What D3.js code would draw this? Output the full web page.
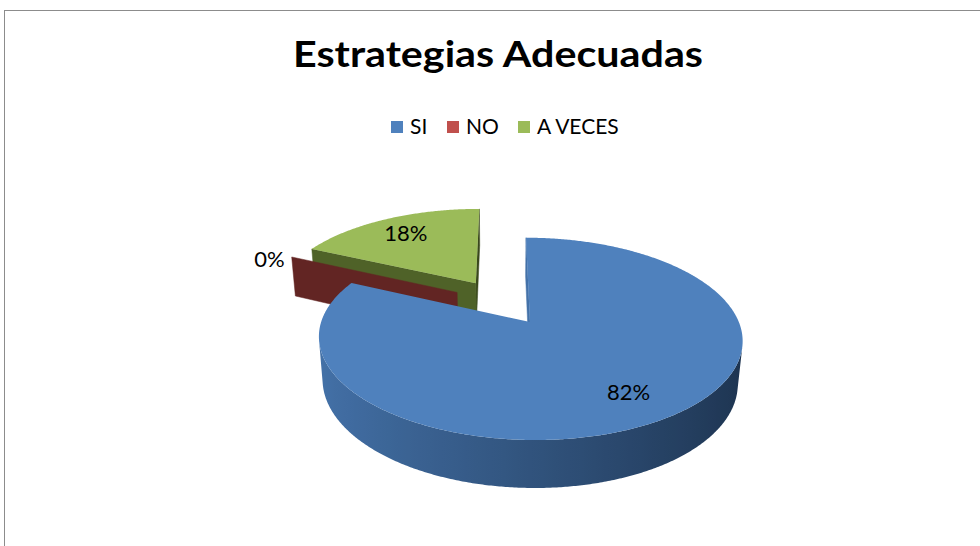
<!DOCTYPE html>
<html>
<head>
<meta charset="utf-8">
<script src="https://cdn.jsdelivr.net/npm/d3@7"></script>
<style>
  body { margin: 0; background: #fff; }
  text { font-family: Lato, "Noto Sans", sans-serif; fill: #000; }
</style>
</head>
<body>
<script>
const categories = ["SI", "NO", "A VECES"];
const values = [82, 0, 18];
const labels = ["82%", "0%", "18%"];
const topColors = ["#4F81BD", "#C0504D", "#9BBB59"];
const sideDark = ["#1d334f", "#461a19", "#3a481d"];
const sideLight = ["#4472a9", "#6d2927", "#586d2d"];

const W = 980, H = 546;

// fake 3d camera, tuned against the picture
const cx = 502, cy = 302, f = 1120, D = 5.55;
const tilt = Math.asin(0.455);
const sinT = Math.sin(tilt), cosT = Math.cos(tilt);
const thick = 0.235, explode = 0.25;

function project(x, z, h) {
  const v = h * cosT + z * sinT, w = D + z * cosT - h * sinT;
  return [cx + f * x / w, cy - f * v / w];
}
function depth(x, z, h) { return D + z * cosT - h * sinT; }
// camera position in world coords
const cam = { x: 0, h: D * sinT, z: -D * cosT };

const svg = d3.select("body").append("svg")
  .attr("width", W)
  .attr("height", H);
const defs = svg.append("defs");

svg.append("rect")
  .attr("x", 4.5).attr("y", 10.5)
  .attr("width", 1100).attr("height", 700)
  .attr("fill", "none")
  .attr("stroke", "#8c8c8c")
  .attr("stroke-width", 1);

svg.append("text")
  .attr("x", 498).attr("y", 67)
  .attr("text-anchor", "middle")
  .attr("textLength", 410)
  .attr("lengthAdjust", "spacingAndGlyphs")
  .style("font-size", "37px")
  .style("font-weight", "bold")
  .text("Estrategias Adecuadas");

// legend
const legendX = d3.scaleOrdinal().domain(categories).range([391, 447, 518]);
const legend = svg.append("g").selectAll("g")
  .data(categories)
  .join("g")
  .attr("transform", d => `translate(${legendX(d)},121)`);
legend.append("rect")
  .attr("width", 12).attr("height", 12)
  .attr("fill", (d, i) => topColors[i]);
legend.append("text")
  .attr("x", 19).attr("y", 12.5)
  .style("font-size", "21px")
  .text(d => d);

const pie = d3.pie().sort(null).startAngle(0).endAngle(2 * Math.PI);
const arcs = pie(values);

const line = d3.line();

const slices = arcs.map(function (a, i) {
  const mid = (a.startAngle + a.endAngle) / 2;
  const ox = explode * Math.sin(mid), oz = explode * Math.cos(mid);
  return { a: a, i: i, mid: mid, ox: ox, oz: oz };
});

// far slices first
slices.sort((p, q) => depth(q.ox, q.oz, 0) - depth(p.ox, p.oz, 0));

function visible(nx, nz, px, pz) {
  return nx * (cam.x - px) + nz * (cam.z - pz) > 0;
}

slices.forEach(function (s) {
  const i = s.i, a0 = s.a.startAngle, a1 = s.a.endAngle;
  const shade = d3.interpolateRgb(sideDark[i], sideLight[i]);
  const g = svg.append("g");
  const outer = th => [s.ox + Math.sin(th), s.oz + Math.cos(th)];
  const n = Math.max(1, Math.ceil((a1 - a0) / (Math.PI / 360)));

  // radial walls, flat shaded
  const walls = [];
  [[a0, -Math.cos(a0), Math.sin(a0)], [a1, Math.cos(a1), -Math.sin(a1)]].forEach(function (wl) {
    const th = wl[0], nx = wl[1], nz = wl[2];
    const p = outer(th);
    const mx = (s.ox + p[0]) / 2, mz = (s.oz + p[1]) / 2;
    if (!visible(nx, nz, mx, mz)) return;
    walls.push({
      pts: [project(s.ox, s.oz, 0), project(p[0], p[1], 0),
            project(p[0], p[1], -thick), project(s.ox, s.oz, -thick)],
      color: shade((1 - nx) / 2),
      d: depth(mx, mz, -thick / 2)
    });
  });
  walls.sort((p, q) => q.d - p.d);
  g.selectAll(".wall")
    .data(walls)
    .join("path")
    .attr("class", "wall")
    .attr("d", d => line(d.pts) + "Z")
    .attr("fill", d => d.color)
    .attr("stroke", d => d.color)
    .attr("stroke-width", 0.5);

  // curved rim: visible angles only, one path with a gradient
  const vis = [];
  for (let k = 0; k <= n; k++) {
    const th = a0 + (a1 - a0) * k / n;
    const p = outer(th);
    if (a1 - a0 > 0 && visible(Math.sin(th), Math.cos(th), p[0], p[1])) vis.push(th);
  }
  if (vis.length > 1) {
    const topPts = vis.map(th => { const p = outer(th); return project(p[0], p[1], 0); });
    const botPts = vis.map(th => { const p = outer(th); return project(p[0], p[1], -thick); }).reverse();
    const xs = topPts.map(p => p[0]);
    const x0 = d3.min(xs), x1 = d3.max(xs);
    const stops = vis.map((th, k) => ({ off: (xs[k] - x0) / (x1 - x0), c: shade((1 - Math.sin(th)) / 2) }))
      .sort((p, q) => p.off - q.off)
      .filter((d, k) => k % 6 === 0);
    const grad = defs.append("linearGradient")
      .attr("id", "rim" + i)
      .attr("gradientUnits", "userSpaceOnUse")
      .attr("x1", x0).attr("x2", x1).attr("y1", 0).attr("y2", 0);
    grad.selectAll("stop")
      .data(stops)
      .join("stop")
      .attr("offset", d => d.off)
      .attr("stop-color", d => d.c);
    g.append("path")
      .attr("d", line(topPts.concat(botPts)) + "Z")
      .attr("fill", `url(#rim${i})`);
  }

  // top
  if (a1 - a0 > 0) {
    const pts = [project(s.ox, s.oz, 0)];
    for (let k = 0; k <= n; k++) {
      const p = outer(a0 + (a1 - a0) * k / n);
      pts.push(project(p[0], p[1], 0));
    }
    g.append("path")
      .attr("d", line(pts) + "Z")
      .attr("fill", topColors[i]);
  }
});

// data labels
arcs.forEach(function (a, i) {
  const mid = (a.startAngle + a.endAngle) / 2;
  const ox = explode * Math.sin(mid), oz = explode * Math.cos(mid);
  const r = values[i] === 0 ? 1.15 : 0.76;
  const h = values[i] === 0 ? -thick * 0.18 : 0;
  const p = project(ox + r * Math.sin(mid), oz + r * Math.cos(mid), h);
  svg.append("text")
    .attr("x", p[0]).attr("y", p[1])
    .attr("text-anchor", "middle")
    .attr("dy", "0.35em")
    .style("font-size", "22px")
    .text(labels[i]);
});
</script>
</body>
</html>
